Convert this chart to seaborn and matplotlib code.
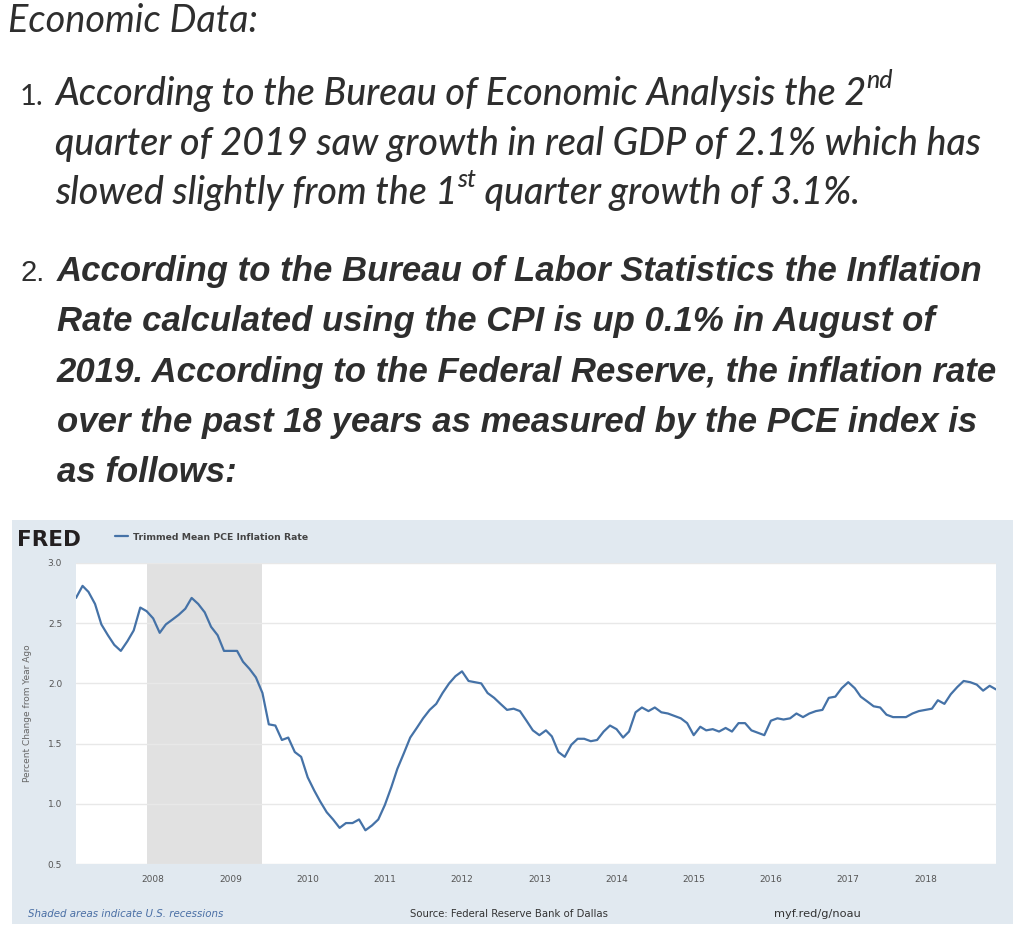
import numpy as np
import pandas as pd
import matplotlib
matplotlib.use("Agg")
import matplotlib.pyplot as plt
import seaborn as sns
from matplotlib.patches import Rectangle

# Trimmed Mean PCE inflation rate, monthly from Jan 2007 to Dec 2018
pce_values = [
    2.71, 2.81, 2.76, 2.66, 2.49, 2.40, 2.32, 2.27, 2.35, 2.44, 2.63, 2.60,
    2.54, 2.42, 2.49, 2.53, 2.57, 2.62, 2.71, 2.66, 2.59, 2.47, 2.40, 2.27,
    2.27, 2.27, 2.18, 2.12, 2.05, 1.92, 1.66, 1.65, 1.53, 1.55, 1.43, 1.39,
    1.22, 1.11, 1.02, 0.93, 0.87, 0.80, 0.84, 0.84, 0.87, 0.78, 0.82, 0.87,
    0.99, 1.14, 1.29, 1.42, 1.55, 1.63, 1.71, 1.78, 1.83, 1.92, 2.00, 2.06,
    2.10, 2.02, 2.01, 2.00, 1.92, 1.88, 1.83, 1.78, 1.79, 1.77, 1.69, 1.61,
    1.57, 1.61, 1.56, 1.43, 1.39, 1.49, 1.54, 1.54, 1.52, 1.53, 1.60, 1.65,
    1.62, 1.55, 1.60, 1.76, 1.80, 1.77, 1.80, 1.76, 1.75, 1.73, 1.71, 1.67,
    1.57, 1.64, 1.61, 1.62, 1.60, 1.63, 1.60, 1.67, 1.67, 1.61, 1.59, 1.57,
    1.69, 1.71, 1.70, 1.71, 1.75, 1.72, 1.75, 1.77, 1.78, 1.88, 1.89, 1.96,
    2.01, 1.96, 1.89, 1.85, 1.81, 1.80, 1.74, 1.72, 1.72, 1.72, 1.75, 1.77,
    1.78, 1.79, 1.86, 1.83, 1.91, 1.97, 2.02, 2.01, 1.99, 1.94, 1.98, 1.95,
]
first_month = "2007-01-01"
recession_start = "2007-12-01"
recession_end = "2009-06-01"
year_ticks = list(range(2008, 2019))
y_ticks = [0.5, 1.0, 1.5, 2.0, 2.5, 3.0]

heading = "Economic Data:"
item1 = [
    [("According to the Bureau of Economic Analysis the 2", False), ("nd", True)],
    [("quarter of 2019 saw growth in real GDP of 2.1% which has", False)],
    [("slowed slightly from the 1", False), ("st", True), (" quarter growth of 3.1%.", False)],
]
item2 = [
    "According to the Bureau of Labor Statistics the Inflation",
    "Rate calculated using the CPI is up 0.1% in August of",
    "2019. According to the Federal Reserve, the inflation rate",
    "over the past 18 years as measured by the PCE index is",
    "as follows:",
]
series_name = "Trimmed Mean PCE Inflation Rate"
y_label = "Percent Change from Year Ago"
footer_left = "Shaded areas indicate U.S. recessions"
footer_mid = "Source: Federal Reserve Bank of Dallas"
footer_right = "myf.red/g/noau"

W, H = 1024, 951


def fx(x):
    return x / W


def fy(y):
    return 1 - y / H


def draw_runs(fig, x, y, runs, size, **kw):
    # draws a line made of normal and superscript pieces, left to right
    renderer = fig.canvas.get_renderer()
    cur = x
    for text, sup in runs:
        if sup:
            t = fig.text(fx(cur), fy(y) + size * 0.44 / 72 * 100 / H, text,
                         fontsize=size * 0.66, va="baseline", **kw)
        else:
            t = fig.text(fx(cur), fy(y), text, fontsize=size, va="baseline", **kw)
        bb = t.get_window_extent(renderer)
        cur = bb.x1


if __name__ == "__main__":
    sns.set_style("white")
    plt.rcParams["font.family"] = ["DejaVu Sans"]

    dates = pd.date_range(first_month, periods=len(pce_values), freq="MS")
    df = pd.DataFrame({"date": dates, "value": pce_values})

    fig = plt.figure(figsize=(W / 100, H / 100), dpi=100)
    fig.patch.set_facecolor("white")

    # top text block
    text_color = "#2e2e2e"
    fig.text(fx(8), fy(32), heading, fontsize=27.3, family="Lato", style="italic",
             color=text_color, va="baseline")

    fig.text(fx(20), fy(105), "1.", fontsize=21, family="Lato", color=text_color, va="baseline")
    for i, runs in enumerate(item1):
        draw_runs(fig, 55, 105 + i * 49.5, runs, 27.1, family="Lato", style="italic",
                  weight="medium", color=text_color)

    fig.text(fx(20), fy(281), "2.", fontsize=21, family="Liberation Sans", color=text_color,
             va="baseline")
    for i, line in enumerate(item2):
        fig.text(fx(57), fy(281 + i * 50.3), line, fontsize=25, family="Liberation Sans",
                 weight="bold", style="italic", color=text_color, va="baseline")

    # FRED panel background
    fig.add_artist(Rectangle((fx(12), fy(924)), fx(1001), (924 - 520) / H,
                             transform=fig.transFigure, facecolor="#e1e9f0",
                             edgecolor="none", zorder=0))
    fig.text(fx(17), fy(546), "FRED", fontsize=15.5, weight="heavy", color="#231f20",
             va="baseline")

    ax = fig.add_axes([fx(76), fy(864), fx(920), (864 - 563) / H])
    ax.set_facecolor("white")
    ax.axvspan(pd.Timestamp(recession_start), pd.Timestamp(recession_end),
               color="#e1e1e1", lw=0, zorder=0)
    sns.lineplot(data=df, x="date", y="value", ax=ax, color="#4572a7", linewidth=1.6,
                 label=series_name)

    ax.set_xlim(dates[0], dates[-1])
    ax.set_ylim(0.5, 3.0)
    ax.set_yticks(y_ticks)
    ax.set_yticklabels([f"{v:.1f}" for v in y_ticks])
    ax.set_xticks([pd.Timestamp(f"{y}-01-01") for y in year_ticks])
    ax.set_xticklabels([str(y) for y in year_ticks])
    ax.yaxis.grid(True, color="#e8e8e8", linewidth=1)
    ax.xaxis.grid(False)
    ax.set_axisbelow(True)
    for s in ax.spines.values():
        s.set_visible(False)
    ax.tick_params(axis="y", length=0, pad=10, labelsize=6.5, labelcolor="#555555")
    ax.tick_params(axis="x", length=6, width=0.8, color="#ccd6eb", pad=2,
                   labelsize=6.5, labelcolor="#555555")
    ax.set_xlabel("")
    ax.set_ylabel("")

    ax.legend(loc="center left", bbox_to_anchor=(fx(115), fy(537)),
              bbox_transform=fig.transFigure, frameon=False, handlelength=1.4,
              handletextpad=0.5, borderpad=0, borderaxespad=0,
              prop={"size": 6.7, "weight": "bold"}, labelcolor="#444444")

    fig.text(fx(28), fy(713), y_label, rotation=90, fontsize=6.5, color="#666666",
             ha="center", va="center")

    fig.text(fx(28), fy(914), footer_left, fontsize=7.4, style="italic", color="#4a6fa5",
             va="center")
    fig.text(fx(410), fy(914), footer_mid, fontsize=7.3, color="#333333", va="center")
    fig.text(fx(774), fy(914), footer_right, fontsize=8.2, color="#333333", va="center")

    fig.savefig("out.png", dpi=100)
